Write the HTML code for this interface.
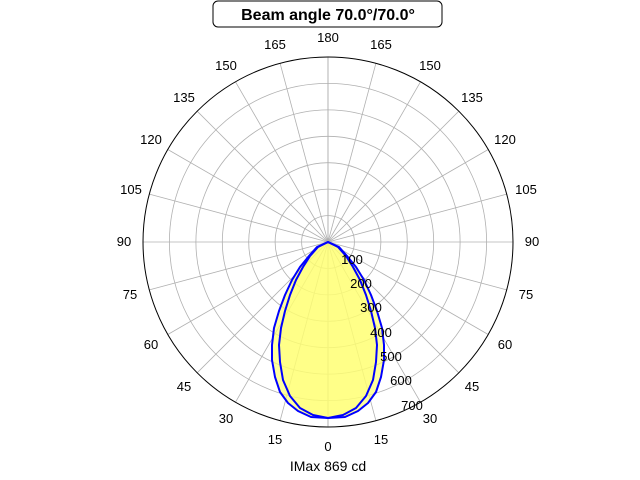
<!DOCTYPE html>
<html><head><meta charset="utf-8"><style>body{margin:0;background:#fff}svg{display:block}</style></head>
<body>
<svg width="640" height="480" xmlns="http://www.w3.org/2000/svg" font-family="Liberation Sans, sans-serif">
<rect width="640" height="480" fill="#fff"/>
<g fill="none" stroke="#b0b0b0" stroke-width="0.8">
<circle cx="328" cy="242" r="26.4"/><circle cx="328" cy="242" r="52.9"/><circle cx="328" cy="242" r="79.3"/><circle cx="328" cy="242" r="105.7"/><circle cx="328" cy="242" r="132.1"/><circle cx="328" cy="242" r="158.6"/>
<g id="sp">
<line x1="328" y1="242" x2="328" y2="57"/>
<line x1="328" y1="242" x2="375.9" y2="63.3"/>
<line x1="328" y1="242" x2="420.5" y2="81.8"/>
<line x1="328" y1="242" x2="458.8" y2="111.2"/>
<line x1="328" y1="242" x2="488.2" y2="149.5"/>
<line x1="328" y1="242" x2="506.7" y2="194.1"/>
<line x1="328" y1="242" x2="513" y2="242"/>
<line x1="328" y1="242" x2="506.7" y2="289.9"/>
<line x1="328" y1="242" x2="488.2" y2="334.5"/>
<line x1="328" y1="242" x2="458.8" y2="372.8"/>
<line x1="328" y1="242" x2="420.5" y2="402.2"/>
<line x1="328" y1="242" x2="375.9" y2="420.7"/>
<line x1="328" y1="242" x2="328" y2="427"/>
</g>
<use href="#sp" transform="translate(656,0) scale(-1,1)"/>
</g>
<path id="o" d="M328,242 L339,247 L347,256 L356,267 L364,280 L371,295 L377,311 L382,328 L384,345 L384,360 L381,377 L376,392 L368,403 L358,411 L345,417 L328,418 L311,417 L298,411 L288,403 L280,392 L275,377 L272,360 L272,345 L274,328 L279,311 L285,295 L292,280 L300,267 L309,256 L317,247 Z" fill="#ffff70" fill-opacity="0.45" stroke="none"/>
<path id="i" d="M328,242 L338,247 L346,256 L353,267 L360,280 L366,295 L371,311 L375,328 L377,345 L376,362 L373,380 L366,396 L356,408 L343,415 L328,418 L313,415 L300,408 L290,396 L283,380 L280,362 L279,345 L281,328 L285,311 L290,295 L296,280 L303,267 L310,256 L318,247 Z" fill="#ffff70" fill-opacity="0.45" stroke="none"/>
<use href="#o" fill="none" stroke="#0000ff" stroke-width="2" style="fill:none;stroke:#0000ff"/>
<path d="M328,242 L339,247 L347,256 L356,267 L364,280 L371,295 L377,311 L382,328 L384,345 L384,360 L381,377 L376,392 L368,403 L358,411 L345,417 L328,418 L311,417 L298,411 L288,403 L280,392 L275,377 L272,360 L272,345 L274,328 L279,311 L285,295 L292,280 L300,267 L309,256 L317,247 Z" fill="none" stroke="#0000ff" stroke-width="2" stroke-linejoin="round"/>
<path d="M328,242 L338,247 L346,256 L353,267 L360,280 L366,295 L371,311 L375,328 L377,345 L376,362 L373,380 L366,396 L356,408 L343,415 L328,418 L313,415 L300,408 L290,396 L283,380 L280,362 L279,345 L281,328 L285,311 L290,295 L296,280 L303,267 L310,256 L318,247 Z" fill="none" stroke="#0000ff" stroke-width="2" stroke-linejoin="round"/>
<circle cx="328" cy="242" r="185" fill="none" stroke="#000" stroke-width="1"/>
<g font-size="13" text-anchor="middle" fill="#000">
<text x="328" y="42">180</text>
<text x="275" y="49">165</text><text x="381" y="49">165</text>
<text x="226" y="70">150</text><text x="430" y="70">150</text>
<text x="184" y="102">135</text><text x="472" y="102">135</text>
<text x="151" y="144">120</text><text x="505" y="144">120</text>
<text x="131" y="194">105</text><text x="526" y="194">105</text>
<text x="124" y="246">90</text><text x="532" y="246">90</text>
<text x="130" y="299">75</text><text x="526" y="299">75</text>
<text x="151" y="349">60</text><text x="505" y="349">60</text>
<text x="184" y="391">45</text><text x="472" y="391">45</text>
<text x="226" y="423">30</text><text x="430" y="423">30</text>
<text x="275" y="444">15</text><text x="381" y="444">15</text>
<text x="328" y="451">0</text>
<text x="352" y="264">100</text>
<text x="361" y="288">200</text>
<text x="371" y="312">300</text>
<text x="381" y="337">400</text>
<text x="391" y="361">500</text>
<text x="401" y="385">600</text>
<text x="412" y="410">700</text>
</g>
<rect x="213" y="1" width="229" height="26" rx="5" fill="#fff" stroke="#000" stroke-width="1"/>
<text x="328" y="20" font-size="16" font-weight="bold" text-anchor="middle">Beam angle 70.0°/70.0°</text>
<text x="328" y="471" font-size="14" text-anchor="middle">IMax 869 cd</text>
</svg>
</body></html>
